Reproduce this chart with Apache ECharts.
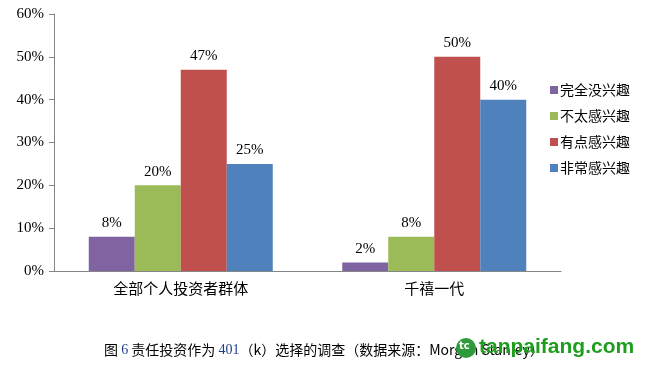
<!DOCTYPE html>
<html><head><meta charset="utf-8">
<script src="https://cdn.jsdelivr.net/npm/echarts@6/dist/echarts.min.js"></script>
<style>html,body{margin:0;padding:0;background:#fff}#c{width:650px;height:368px}</style>
</head><body><div id="c"></div>
<script>
const categories = ['全部个人投资者群体', '千禧一代'];
const seriesNames = ['完全没兴趣', '不太感兴趣', '有点感兴趣', '非常感兴趣'];
const notInterested = [8, 2];
const notVery = [20, 8];
const somewhat = [47, 50];
const very = [25, 40];
const yTicks = [0, 10, 20, 30, 40, 50, 60];
const colors = ['#8064A2', '#9BBB59', '#C0504D', '#4F81BD'];
const values = [notInterested, notVery, somewhat, very];

const chart = echarts.init(document.getElementById('c'), null, {renderer: 'canvas'});
const serif = '"Liberation Serif", "Times New Roman", serif';
const cjk = '"Noto Sans CJK SC", sans-serif';
chart.setOption({
  animation: false,
  color: colors,
  grid: {left: 54, right: 89, top: 14, bottom: 97, containLabel: false},
  legend: {
    orient: 'vertical', left: 545, top: 78,
    itemWidth: 8, itemHeight: 8, itemGap: 12,
    icon: 'rect',
    textStyle: {fontFamily: cjk, fontSize: 14, color: '#000', padding: [0,0,0,-3]},
    data: seriesNames
  },
  xAxis: {
    type: 'category', data: categories,
    axisLine: {lineStyle: {color: '#868686'}},
    axisTick: {length: 5, lineStyle: {color: '#868686'}},
    axisLabel: {fontFamily: cjk, fontSize: 15, color: '#000', margin: 10}
  },
  yAxis: {
    type: 'value', min: yTicks[0], max: yTicks[yTicks.length-1], interval: 10,
    axisLine: {show: true, lineStyle: {color: '#868686'}},
    axisTick: {show: true, length: 5, lineStyle: {color: '#868686'}},
    splitLine: {show: false},
    axisLabel: {formatter: '{value}%', fontFamily: serif, fontSize: 15, color: '#000', margin: 10}
  },
  series: seriesNames.map((n, i) => ({
    name: n, type: 'bar', data: values[i], barWidth: 46, barGap: '0%',
    label: {show: true, position: 'top', distance: 6, formatter: '{c}%', fontFamily: serif, fontSize: 15, color: '#000'}
  })),
  graphic: [
    {type: 'text', left: 104, top: 343, style: {
      text: '图 {b|6} 责任投资作为 {b|401}（k）选择的调查（数据来源：Morgan Stanley）',
      font: '14px ' + cjk, fill: '#000',
      rich: {b: {fill: '#1F3F8F', font: '14px ' + serif}}
    }},
    {type: 'circle', shape: {cx: 466, cy: 348, r: 10}, style: {fill: '#2E9A3A'}},
    {type: 'text', left: 459, top: 341, style: {text: 'tc', font: 'bold 10px "DejaVu Sans"', fill: '#fff'}},
    {type: 'text', left: 479, top: 337, style: {text: 'tanpaifang.com', font: 'bold 21px "Liberation Sans", Arial, sans-serif', fill: '#1E9E1E'}}
  ]
});
</script></body></html>
